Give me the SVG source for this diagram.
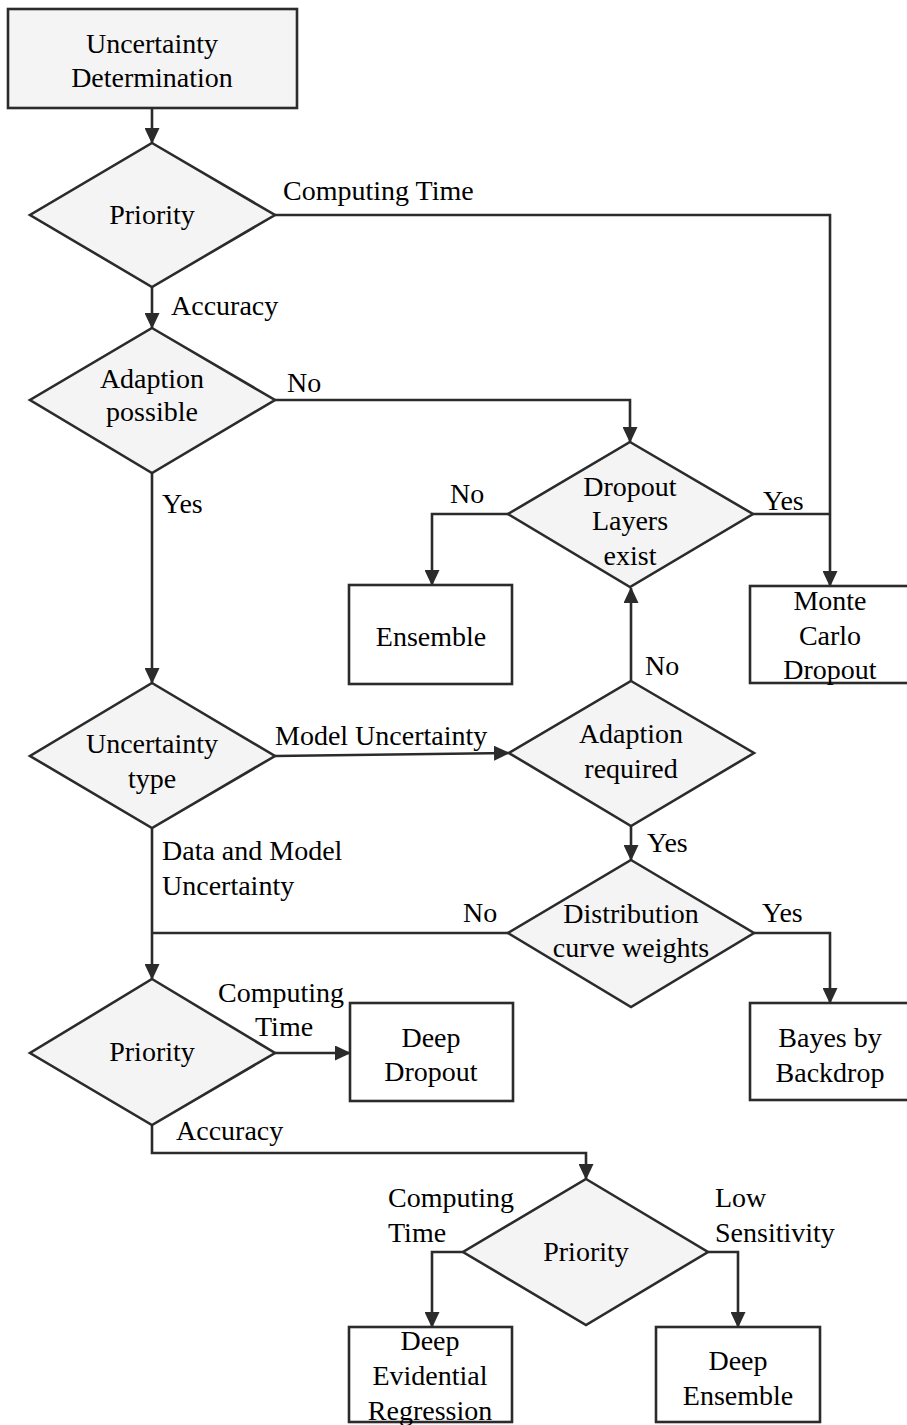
<svg xmlns="http://www.w3.org/2000/svg" width="907" height="1425" viewBox="0 0 907 1425">
  <style>
    .t { font-family: "Liberation Serif", "Times New Roman", serif; font-size: 28px; fill: #000; }
    .c { text-anchor: middle; }
    .shape { stroke: #2b2b2b; stroke-width: 2.6; }
    .dec { fill: #f4f4f4; }
    .box { fill: #ffffff; }
    .edge { fill: none; stroke: #2b2b2b; stroke-width: 2.6; }
  </style>
  <defs>
    <marker id="arrow" markerUnits="userSpaceOnUse" markerWidth="16" markerHeight="15" viewBox="0 0 16 15" refX="15" refY="7.5" orient="auto">
      <path d="M0,0 L16,7.5 L0,15 Z" fill="#2b2b2b"/>
    </marker>
  </defs>

  <rect width="907" height="1425" fill="#ffffff"/>

  <!-- connectors -->
  <g id="connectors">
    <path class="edge" d="M152,108 L152,143" marker-end="url(#arrow)"/>
    <path class="edge" d="M275,215 L830,215 L830,586" marker-end="url(#arrow)"/>
    <path class="edge" d="M152,287 L152,328" marker-end="url(#arrow)"/>
    <path class="edge" d="M275,400 L630,400 L630,442" marker-end="url(#arrow)"/>
    <path class="edge" d="M152,473 L152,683" marker-end="url(#arrow)"/>
    <path class="edge" d="M508,514 L432,514 L432,585" marker-end="url(#arrow)"/>
    <path class="edge" d="M753,514 L830,514"/>
    <path class="edge" d="M631,681 L631,588" marker-end="url(#arrow)"/>
    <path class="edge" d="M275,756 L509,753" marker-end="url(#arrow)"/>
    <path class="edge" d="M631,826 L631,860" marker-end="url(#arrow)"/>
    <path class="edge" d="M152,828 L152,979" marker-end="url(#arrow)"/>
    <path class="edge" d="M508,933 L152,933"/>
    <path class="edge" d="M754,933 L830,933 L830,1003" marker-end="url(#arrow)"/>
    <path class="edge" d="M275,1053 L350,1053" marker-end="url(#arrow)"/>
    <path class="edge" d="M152,1125 L152,1153 L586,1153 L586,1179" marker-end="url(#arrow)"/>
    <path class="edge" d="M463,1252 L432,1252 L432,1327" marker-end="url(#arrow)"/>
    <path class="edge" d="M708,1252 L738,1252 L738,1327" marker-end="url(#arrow)"/>
  </g>

  <!-- connector labels -->
  <g id="edge-labels" class="t">
    <text x="283" y="200">Computing Time</text>
    <text x="171" y="315">Accuracy</text>
    <text x="287" y="392">No</text>
    <text x="162" y="513">Yes</text>
    <text x="450" y="503">No</text>
    <text x="763" y="510">Yes</text>
    <text x="645" y="675">No</text>
    <text x="275" y="745">Model Uncertainty</text>
    <text x="647" y="852">Yes</text>
    <text x="162" y="860">Data and Model</text>
    <text x="162" y="895">Uncertainty</text>
    <text x="463" y="922">No</text>
    <text x="762" y="922">Yes</text>
    <text x="218" y="1002">Computing</text>
    <text x="255" y="1036">Time</text>
    <text x="176" y="1140">Accuracy</text>
    <text x="388" y="1207">Computing</text>
    <text x="388" y="1242">Time</text>
    <text x="715" y="1207">Low</text>
    <text x="715" y="1242">Sensitivity</text>
  </g>

  <g id="start">
    <rect class="shape dec" x="8" y="9" width="289" height="99"/>
    <text class="t c" x="152" y="53">Uncertainty</text>
    <text class="t c" x="152" y="87">Determination</text>
  </g>

  <g id="priority-1">
    <polygon class="shape dec" points="152,143 275,215 152,287 30,215"/>
    <text class="t c" x="152" y="224">Priority</text>
  </g>

  <g id="adaption-possible">
    <polygon class="shape dec" points="152,328 275,400 152,473 30,400"/>
    <text class="t c" x="152" y="388">Adaption</text>
    <text class="t c" x="152" y="421">possible</text>
  </g>

  <g id="dropout-layers">
    <polygon class="shape dec" points="630,442 753,514 630,587 508,514"/>
    <text class="t c" x="630" y="496">Dropout</text>
    <text class="t c" x="630" y="530">Layers</text>
    <text class="t c" x="630" y="565">exist</text>
  </g>

  <g id="ensemble">
    <rect class="shape box" x="349" y="585" width="163" height="99"/>
    <text class="t c" x="431" y="646">Ensemble</text>
  </g>

  <g id="monte-carlo">
    <rect class="shape box" x="750" y="586" width="162" height="97"/>
    <text class="t c" x="830" y="610">Monte</text>
    <text class="t c" x="830" y="645">Carlo</text>
    <text class="t c" x="830" y="679">Dropout</text>
  </g>

  <g id="uncertainty-type">
    <polygon class="shape dec" points="152,683 275,756 152,828 30,756"/>
    <text class="t c" x="152" y="753">Uncertainty</text>
    <text class="t c" x="152" y="788">type</text>
  </g>

  <g id="adaption-required">
    <polygon class="shape dec" points="631,681 754,753 631,826 509,753"/>
    <text class="t c" x="631" y="743">Adaption</text>
    <text class="t c" x="631" y="778">required</text>
  </g>

  <g id="distribution">
    <polygon class="shape dec" points="631,860 754,933 631,1007 508,933"/>
    <text class="t c" x="631" y="923">Distribution</text>
    <text class="t c" x="631" y="957">curve weights</text>
  </g>

  <g id="bayes">
    <rect class="shape box" x="750" y="1003" width="162" height="97"/>
    <text class="t c" x="830" y="1047">Bayes by</text>
    <text class="t c" x="830" y="1082">Backdrop</text>
  </g>

  <g id="priority-2">
    <polygon class="shape dec" points="152,979 275,1053 152,1125 30,1053"/>
    <text class="t c" x="152" y="1061">Priority</text>
  </g>

  <g id="deep-dropout">
    <rect class="shape box" x="350" y="1003" width="163" height="98"/>
    <text class="t c" x="431" y="1047">Deep</text>
    <text class="t c" x="431" y="1081">Dropout</text>
  </g>

  <g id="priority-3">
    <polygon class="shape dec" points="586,1179 708,1252 586,1325 463,1252"/>
    <text class="t c" x="586" y="1261">Priority</text>
  </g>

  <g id="deep-evidential">
    <rect class="shape box" x="349" y="1327" width="163" height="95"/>
    <text class="t c" x="430" y="1350">Deep</text>
    <text class="t c" x="430" y="1385">Evidential</text>
    <text class="t c" x="430" y="1420">Regression</text>
  </g>

  <g id="deep-ensemble">
    <rect class="shape box" x="656" y="1327" width="164" height="95"/>
    <text class="t c" x="738" y="1370">Deep</text>
    <text class="t c" x="738" y="1405">Ensemble</text>
  </g>
</svg>
